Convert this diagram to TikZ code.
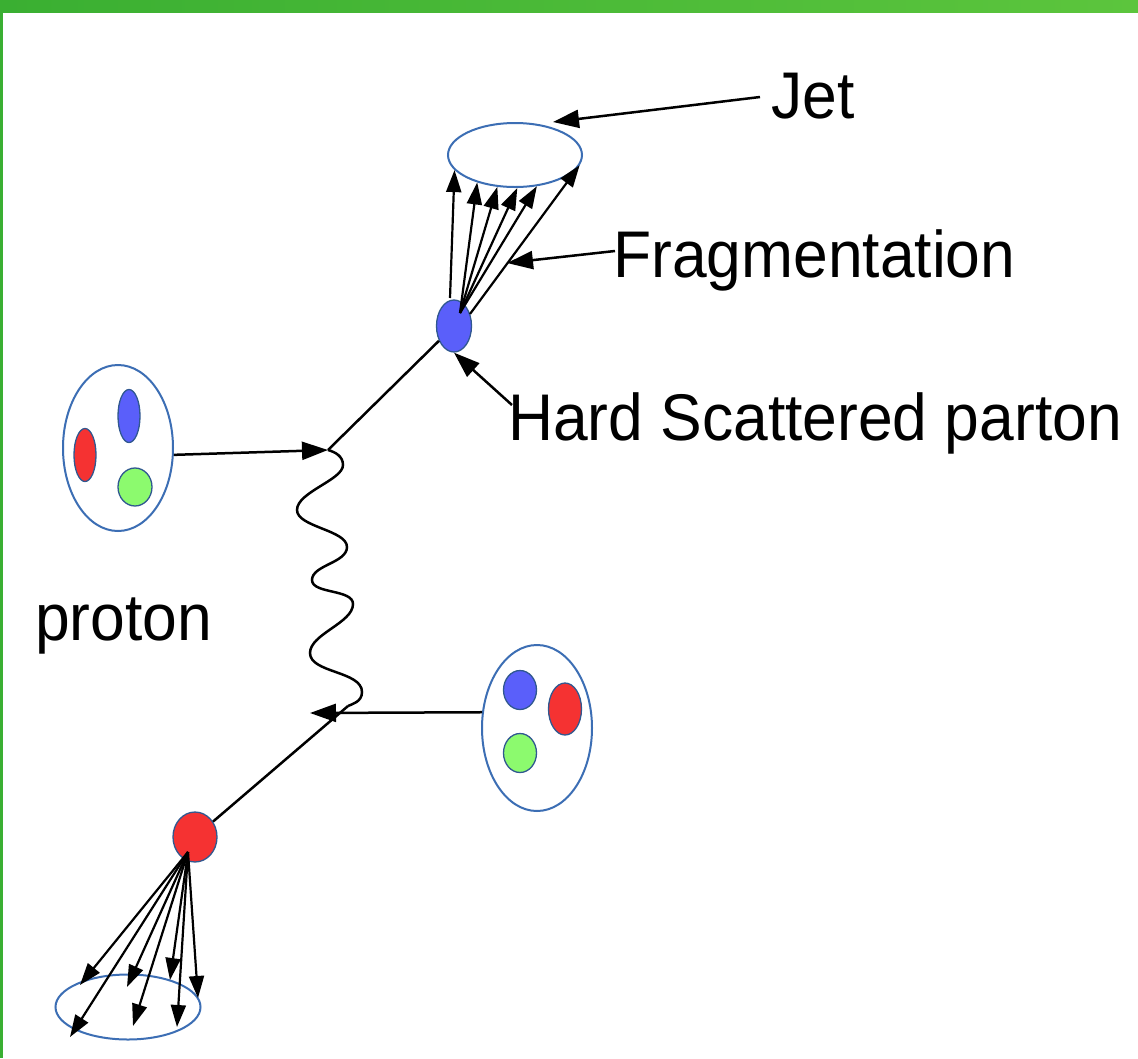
\documentclass[tikz,border=0pt]{standalone}
\usepackage{fontspec}
\setmainfont{Liberation Sans}
\usetikzlibrary{shapes.geometric,arrows.meta}
\definecolor{gl}{RGB}{58,175,50}
\definecolor{gr}{RGB}{92,197,61}
\definecolor{edgeblue}{RGB}{60,110,180}
\definecolor{qb}{RGB}{90,95,250}
\definecolor{qr}{RGB}{245,50,50}
\definecolor{qg}{RGB}{140,250,110}
\begin{document}
\begin{tikzpicture}[x=1pt,y=-1pt,
  blob/.style={ellipse, draw=edgeblue, line width=2pt, inner sep=0pt},
  quark/.style={ellipse, draw=edgeblue!80!black, line width=1.3pt, inner sep=0pt},
  arr/.style={-{Triangle[length=26pt,width=18pt]}, line width=2.5pt},
  frag/.style={-{Triangle[length=22pt,width=15pt]}, line width=2.2pt},
  plain/.style={line width=2.5pt},
  lbl/.style={font=\fontsize{66}{70}\selectfont, inner sep=0pt, anchor=base west, xscale=0.945},
]
\useasboundingbox (0,0) rectangle (1138,1058);
\fill[white] (0,0) rectangle (1138,1058);
\shade[left color=gl, right color=gr] (0,0) rectangle (1138,12);
\fill[gl] (0,12) rectangle (2.5,1058);

% nodes
\node[blob, minimum width=134pt, minimum height=64pt] (jet) at (515,155) {};
\node[quark, fill=qb, minimum width=35pt, minimum height=52pt] (hp) at (454,326) {};

\node[blob, minimum width=110pt, minimum height=166pt] (lp) at (118,448) {};
\node[quark, fill=qb, minimum width=22pt, minimum height=53pt] (lq1) at (129,416) {};
\node[quark, fill=qr, minimum width=22pt, minimum height=53pt] (lq2) at (85,455) {};
\node[quark, fill=qg, minimum width=34pt, minimum height=38pt] (lq3) at (135,487) {};

\node[blob, minimum width=110pt, minimum height=166pt] (rp) at (537,728) {};
\node[quark, fill=qb, minimum width=33pt, minimum height=39pt] (rq1) at (520,690) {};
\node[quark, fill=qr, minimum width=33pt, minimum height=52pt] (rq2) at (565,709) {};
\node[quark, fill=qg, minimum width=33pt, minimum height=39pt] (rq3) at (520,753) {};

\node[quark, fill=qr, minimum width=44pt, minimum height=50pt] (lo) at (195,837) {};
\node[blob, minimum width=145pt, minimum height=65pt] (jet2) at (128,1007) {};

% labels
\node[lbl] (tjet) at (771,118) {Jet};
\node[lbl] (tfrag) at (613,277) {Fragmentation};
\node[lbl] (thard) at (508,440) {Hard Scattered parton};
\node[lbl] (tprot) at (35,640) {proton};

% coordinates
\coordinate (v1) at (328,450);
\coordinate (v2) at (348,706);
\coordinate (t2) at (310,713);
\coordinate (f0) at (450,298);
\coordinate (fs) at (460,313);
\coordinate (f6) at (470,314);
\coordinate (bs) at (188,852);
\coordinate (b1) at (80,985);
\coordinate (b2) at (70,1037);
\coordinate (b3) at (127,987);
\coordinate (b4) at (133,1026);
\coordinate (b5) at (170,980);
\coordinate (b6) at (177,1027);
\coordinate (b7) at (198,998);
\coordinate (jl) at (760,97);
\coordinate (jt) at (553,122);
\coordinate (fl) at (615,251);
\coordinate (ft) at (507,263);
\coordinate (hl) at (512,405);

% incoming protons
\draw[arr] (lp.-7) -- (v1);
\draw[arr] (rp.164) -- (t2);
\draw[plain] (v1) -- (hp);
\draw[plain] (lo) -- (v2);

% exchanged boson
\draw[plain] (v1) .. controls (335,452) and (343,456) .. (343,465)
  .. controls (343,480) and (297,492) .. (297,510)
  .. controls (297,527) and (347,530) .. (347,547)
  .. controls (347,563) and (312,565) .. (312,580)
  .. controls (312,594) and (353,589) .. (353,604)
  .. controls (353,623) and (310,634) .. (310,653)
  .. controls (310,673) and (362,671) .. (362,692)
  .. controls (362,702) and (352,704) .. (v2);

% fragmentation, top
\draw[frag] (f0) -- (jet.194);
\draw[frag] (fs) -- (jet.216);
\draw[frag] (fs) -- (jet.241);
\draw[frag] (fs) -- (jet.274);
\draw[frag] (fs) -- (jet.305);
\draw[frag] (f6) -- (jet.351);

% fragmentation, bottom
\foreach \t in {b1,b2,b3,b4,b5,b6,b7}
  \draw[frag] (bs) -- (\t);

% label arrows
\draw[arr] (jl) -- (jt);
\draw[arr] (fl) -- (ft);
\draw[arr] (hl) -- (hp.270);
\end{tikzpicture}
\end{document}
